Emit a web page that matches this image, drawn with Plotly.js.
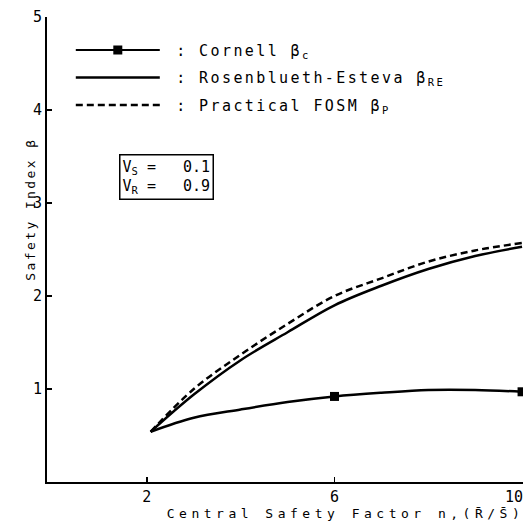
<!DOCTYPE html>
<html>
<head>
<meta charset="utf-8">
<script src="https://cdn.plot.ly/plotly-3.0.1.min.js"></script>
<style>
html,body{margin:0;padding:0;background:#fff;}
#chart{width:527px;height:524px;}
.legendtext{letter-spacing:2.4px;}
g.annotation[data-index="1"] .annotation-text{letter-spacing:4.5px;}
g.annotation[data-index="2"] .annotation-text{letter-spacing:2.4px;}
</style>
</head>
<body>
<div id="chart"></div>
<script>
// Central safety factor n
var nValues = [2.08, 3, 4, 5, 6, 7, 8, 9, 10];
// Safety index values
var cornellBeta = [0.54, 0.69, 0.78, 0.86, 0.92, 0.96, 0.99, 0.99, 0.97];
var rosenbluethBeta = [0.54, 0.94, 1.31, 1.61, 1.90, 2.11, 2.29, 2.43, 2.53];
var fosmBeta = [0.54, 1.00, 1.37, 1.70, 2.00, 2.19, 2.37, 2.49, 2.57];
// Cornell marker points
var cornellMarkX = [6, 10];
var cornellMarkY = [0.92, 0.97];
// Axis ticks
var xTicks = [2, 6, 10];
var xTickLabels = ['2', '6', '10'];
var yTicks = [1, 2, 3, 4, 5];
var yTickLabels = ['1', '2', '3', '4', '5'];
// Texts
var legendNames = [
  '\u00a0: Cornell β<sub>c</sub>',
  '\u00a0: Rosenblueth-Esteva β<sub>RE</sub>',
  '\u00a0: Practical FOSM β<sub>P</sub>'
];
var boxText = 'V<sub>S</sub> = \u00a0\u00a00.1<br>V<sub>R</sub> = \u00a0\u00a00.9';
var xTitle = 'Central Safety Factor n,(R̄/S̄)';
var yTitle = 'Safety Index β';

var mono = 'DejaVu Sans Mono, monospace';

var traces = [
  {x: nValues, y: cornellBeta, mode: 'lines', line: {color: '#000', width: 2.5, shape: 'spline'},
   showlegend: false, hoverinfo: 'skip'},
  {x: cornellMarkX, y: cornellMarkY, mode: 'markers',
   marker: {symbol: 'square', size: 9, color: '#000'}, showlegend: false},
  {x: [null], y: [null], mode: 'lines+markers', name: legendNames[0], legendgroup: 'a',
   line: {color: '#000', width: 2}, marker: {symbol: 'square', size: 9, color: '#000'}},
  {x: nValues, y: rosenbluethBeta, mode: 'lines', name: legendNames[1], legendgroup: 'b',
   line: {color: '#000', width: 2.5, shape: 'spline'}},
  {x: nValues, y: fosmBeta, mode: 'lines', name: legendNames[2], legendgroup: 'c',
   line: {color: '#000', width: 2.5, shape: 'spline', dash: '7px,4px'}}
];

var layout = {
  width: 527, height: 524,
  margin: {l: 47, r: 4, t: 17, b: 42},
  paper_bgcolor: '#fff', plot_bgcolor: '#fff',
  showlegend: true,
  legend: {x: 0.05, y: 0.964, xanchor: 'left', yanchor: 'top', bgcolor: 'rgba(0,0,0,0)',
           font: {family: mono, size: 15, color: '#000'}, itemwidth: 84, tracegroupgap: 5},
  xaxis: {range: [-0.13, 10.02], tickvals: xTicks, ticktext: xTickLabels,
          ticks: 'inside', ticklen: 5, tickwidth: 1.5, tickcolor: '#000',
          ticklabeloverflow: 'allow',
          showline: true, linecolor: '#000', linewidth: 2, showgrid: false, zeroline: false,
          tickfont: {family: mono, size: 15, color: '#000'}},
  yaxis: {range: [0, 5], tickvals: yTicks, ticktext: yTickLabels,
          ticks: 'inside', ticklen: 5, tickwidth: 1.5, tickcolor: '#000',
          showline: true, linecolor: '#000', linewidth: 2, showgrid: false, zeroline: false,
          tickfont: {family: mono, size: 15, color: '#000'}},
  annotations: [
    {xref: 'paper', yref: 'paper', x: 0.151, y: 0.706, xanchor: 'left', yanchor: 'top',
     text: boxText, showarrow: false, align: 'left',
     font: {family: mono, size: 15, color: '#000'},
     bordercolor: '#000', borderwidth: 1.5, borderpad: 2},
    {xref: 'paper', yref: 'paper', x: 0.628, y: -0.067, xanchor: 'center', yanchor: 'middle',
     text: xTitle, showarrow: false, font: {family: mono, size: 13, color: '#000'}},
    {xref: 'paper', yref: 'paper', x: -0.036, y: 0.587, xanchor: 'center', yanchor: 'middle',
     text: yTitle, showarrow: false, textangle: -90, font: {family: mono, size: 13, color: '#000'}}
  ]
};

var gd = document.getElementById('chart');
Plotly.newPlot(gd, traces, layout, {displayModeBar: false, staticPlot: true}).then(function () {
  // nudge the last x tick label left so it stays inside the page, as in the reference
  var labels = gd.querySelectorAll('g.xtick text');
  if (labels.length) labels[labels.length - 1].setAttribute('dx', '-8');
});
</script>
</body>
</html>
